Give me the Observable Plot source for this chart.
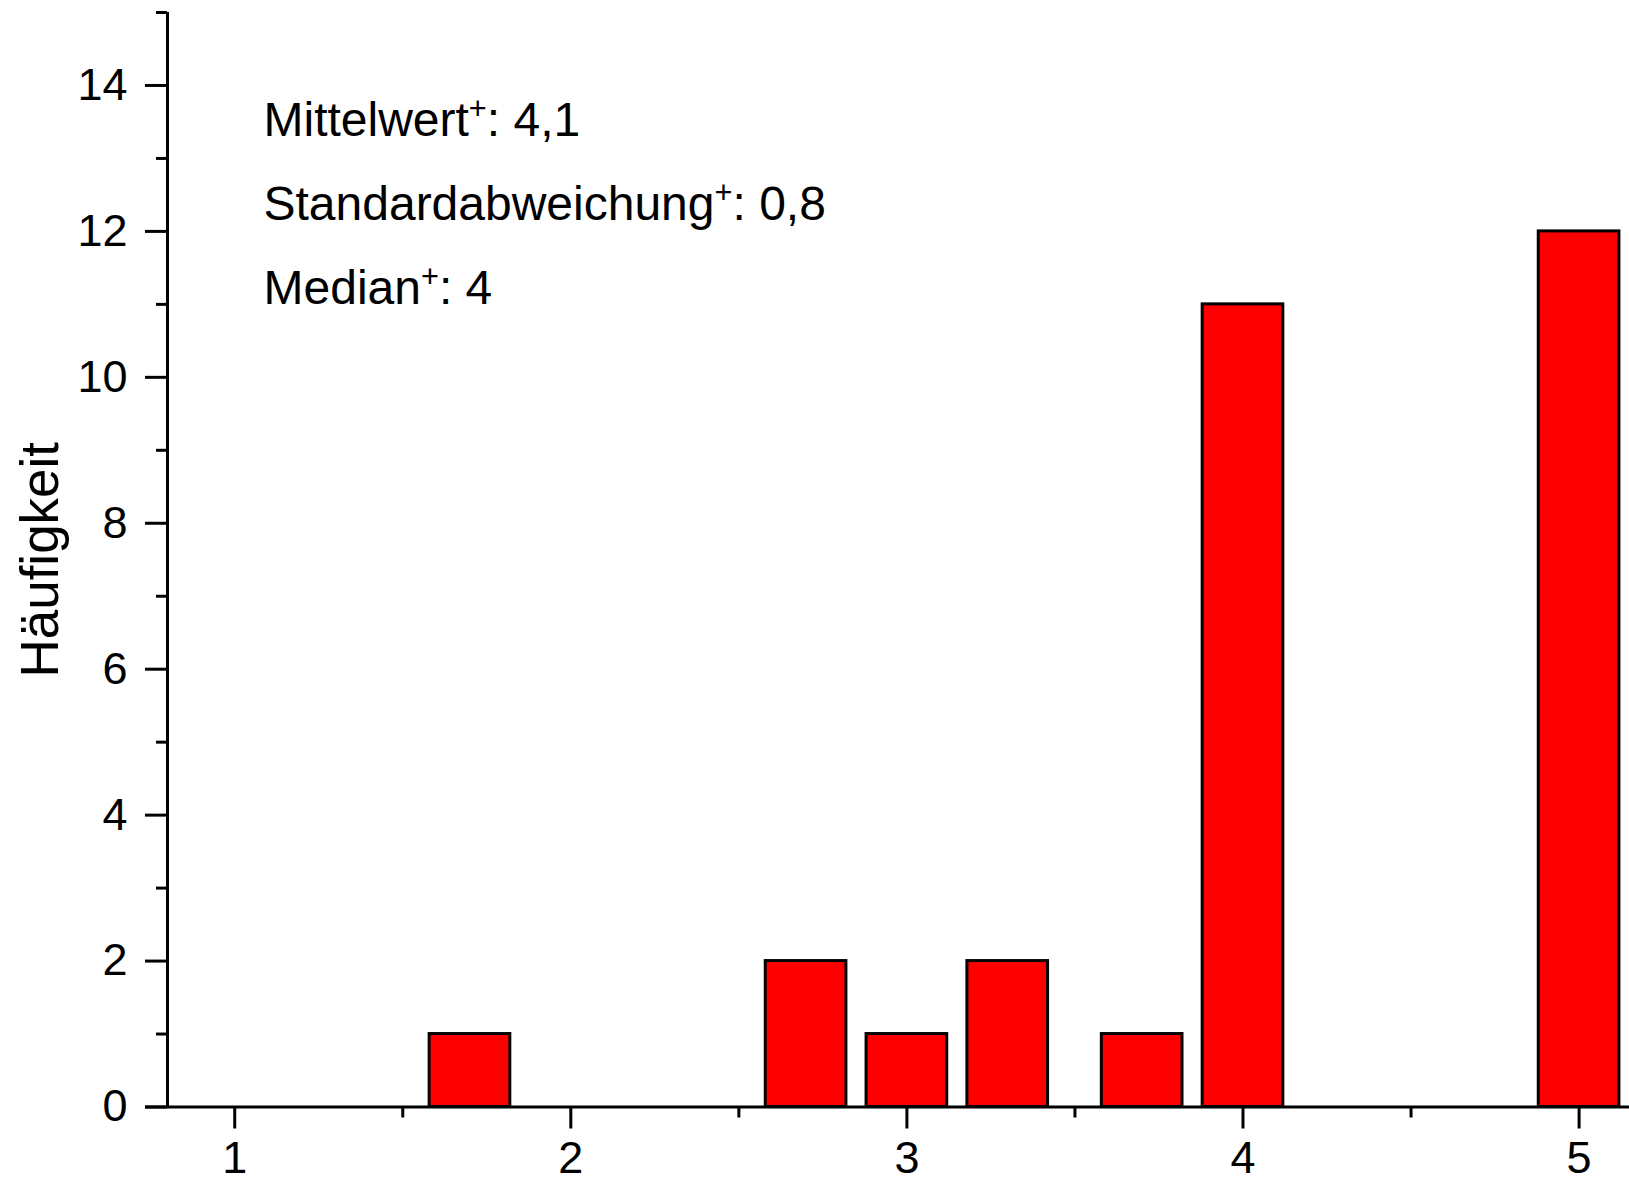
<!DOCTYPE html>
<html>
<head>
<meta charset="utf-8">
<script src="https://cdn.jsdelivr.net/npm/d3@7"></script>
<script src="https://cdn.jsdelivr.net/npm/@observablehq/plot@0.6"></script>
<style>
  html, body { margin: 0; padding: 0; background: #fff; overflow: hidden; }
  svg { display: block; }
</style>
</head>
<body>
<div id="chart"></div>
<script>
// ---- data ----
const ratings = [1.7, 2.7, 3.0, 3.3, 3.7, 4.0, 5.0];
const counts = [1, 2, 1, 2, 1, 11, 12];
const xTicks = [1, 2, 3, 4, 5];
const xMinorTicks = [1.5, 2.5, 3.5, 4.5];
const yTicks = [0, 2, 4, 6, 8, 10, 12, 14];
const yMinorTicks = [1, 3, 5, 7, 9, 11, 13, 15];
const xDomain = [0.8, 5.15];
const yDomain = [0, 15];
const statLines = ["Mittelwert⁺: 4,1", "Standardabweichung⁺: 0,8", "Median⁺: 4"];
const yLabel = "Häufigkeit";
const barHalfWidth = 0.12;

const data = ratings.map((r, i) => ({rating: r, count: counts[i]}));

const font = "'Liberation Sans', Arial, Helvetica, sans-serif";

const plot = Plot.plot({
  width: 1629,
  height: 1182,
  marginLeft: 167,
  marginRight: 0,
  marginTop: 12,
  marginBottom: 75.5,
  style: {fontFamily: font, fontSize: "45px", color: "black", background: "white", overflow: "visible"},
  x: {domain: xDomain, axis: null},
  y: {domain: yDomain, axis: null},
  marks: [
    Plot.rect(data, {
      x1: d => d.rating - barHalfWidth,
      x2: d => d.rating + barHalfWidth,
      y1: 0,
      y2: "count",
      fill: "#ff0000",
      stroke: "black",
      strokeWidth: 3
    }),
    // y axis
    Plot.axisY(yTicks, {anchor: "left", tickSize: 22, tickPadding: 18, strokeWidth: 3, fontSize: 45, label: null, tickFormat: d => String(d)}),
    Plot.axisY(yMinorTicks, {anchor: "left", tickSize: 11, strokeWidth: 3, text: null, label: null}),
    Plot.ruleX([xDomain[0]], {strokeWidth: 3}),
    // x axis
    Plot.axisX(xTicks, {anchor: "bottom", tickSize: 22, tickPadding: 12, strokeWidth: 3, fontSize: 45, label: null, tickFormat: d => String(d)}),
    Plot.axisX(xMinorTicks, {anchor: "bottom", tickSize: 11, strokeWidth: 3, text: null, label: null}),
    Plot.ruleY([0], {strokeWidth: 3, insetLeft: -22}),
    // y label
    Plot.text([yLabel], {frameAnchor: "left", rotate: -90, dx: -110, lineAnchor: "bottom", textAnchor: "middle", fontSize: 53}),
    // stats annotation
    ...statLines.map((t, i) => Plot.text([t], {frameAnchor: "top-left", dx: 96, dy: 123 + i * 84, lineAnchor: "bottom", textAnchor: "start", fontSize: 48}))
  ]
});

// superscript "+"
d3.select(plot).selectAll("text").each(function () {
  const t = this.textContent;
  if (!t.includes("⁺")) return;
  const parts = t.split("⁺");
  const sel = d3.select(this);
  sel.text(null);
  sel.append("tspan").text(parts[0]);
  sel.append("tspan").attr("dy", -17).attr("font-size", "64%").text("+");
  sel.append("tspan").attr("dy", 17).text(parts[1]);
});

document.getElementById("chart").appendChild(plot);
</script>
</body>
</html>
